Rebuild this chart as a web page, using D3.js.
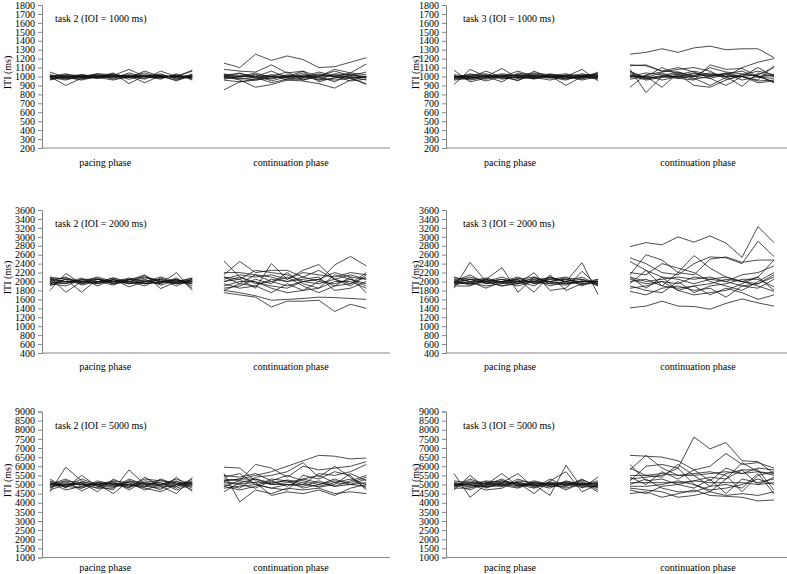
<!DOCTYPE html>
<html><head><meta charset="utf-8">
<script src="https://cdn.jsdelivr.net/npm/d3@7"></script>
<style>body{margin:0;background:#fff}svg{display:block}text{font-family:"Liberation Serif","Times New Roman",serif;fill:#000}</style>
</head><body><svg id="c" width="787" height="574"></svg>
<script>
const phases = ["pacing phase", "continuation phase"];
const titles = ["task 2 (IOI = 1000 ms)", "task 3 (IOI = 1000 ms)", "task 2 (IOI = 2000 ms)", "task 3 (IOI = 2000 ms)", "task 2 (IOI = 5000 ms)", "task 3 (IOI = 5000 ms)"];
const ticks1000 = [200,300,400,500,600,700,800,900,1000,1100,1200,1300,1400,1500,1600,1700,1800];
const ticks2000 = [400,600,800,1000,1200,1400,1600,1800,2000,2200,2400,2600,2800,3000,3200,3400,3600];
const ticks5000 = [1000,1500,2000,2500,3000,3500,4000,4500,5000,5500,6000,6500,7000,7500,8000,8500,9000];

const t2_1000_pacing = [
[1050,990,960,1000,1010,1080,1000,990,1000,1060],
[1000,900,980,1010,1000,990,1060,1000,1010,990],
[970,1010,990,1030,1020,1000,970,1060,1000,1070],
[1000,980,1000,990,1040,920,1010,1000,960,1000],
[990,1020,1010,980,1000,1010,930,1010,990,1000],
[960,1000,1020,1000,990,1000,1000,980,1020,970],
[1010,970,990,1020,980,1040,990,1030,970,1010],
[980,1000,1000,990,1030,990,1020,990,1010,980],
[1020,990,970,1000,1000,1010,1000,1010,990,1020],
[990,960,1010,1010,970,1000,980,1000,1000,990],
[1000,1030,990,980,1010,970,1010,1020,980,1000],
[970,990,1000,1030,1000,1020,1000,970,1030,960],
[1010,980,1020,990,960,1000,1040,990,1000,1010],
[1000,1010,980,1000,1020,990,1000,1010,950,1030]];
const t2_1000_cont = [
[1150,1100,1250,1180,1230,1190,1100,1110,1160,1210],
[1080,1060,1050,1130,1040,1060,1000,1080,1040,1140],
[850,940,960,1000,980,990,1020,1000,990,910],
[1000,960,880,910,960,950,920,870,960,1000],
[1010,1000,1000,1060,990,1040,960,1030,1020,1000],
[990,980,960,980,1000,1010,980,960,980,920],
[1020,1030,1000,970,1020,1000,1050,1010,990,990],
[970,1000,1020,1000,1050,960,1000,1060,1010,1050],
[1000,1040,990,1010,960,980,1000,940,1030,980],
[1030,990,1020,950,1000,1060,940,990,980,1000],
[960,940,970,1000,990,960,1010,1000,950,970],
[1000,1010,980,1020,1010,990,1030,1000,1040,1020],
[1010,970,990,930,970,1020,990,1020,1000,960],
[980,1000,1040,990,1000,1000,960,980,1010,990]];

const t3_1000_pacing = [
[910,1080,1000,1090,980,1010,1000,980,1000,1040],
[1070,940,980,1010,950,1060,990,1000,1080,950],
[980,990,1060,990,1020,990,1010,900,1000,1010],
[1000,1010,1000,940,1040,1000,1020,990,980,1000],
[960,980,1010,1000,990,1030,1000,1010,990,980],
[1000,960,990,1020,1000,980,990,960,1020,1020],
[990,1020,1030,990,960,1010,980,1020,1010,990],
[1020,1000,970,1010,1010,970,1030,1000,960,1000],
[970,990,1000,1000,1060,1000,1000,980,1000,970],
[1000,1000,1020,970,1000,1020,1010,1030,990,1030],
[980,1030,990,1000,980,990,960,1000,1030,1000],
[1010,970,1000,1030,1010,1000,1000,970,1000,990],
[990,1000,950,1000,1020,1040,1020,1000,1010,1010],
[1000,980,1010,980,990,980,1000,1010,970,1050]];
const t3_1000_cont = [
[1250,1270,1310,1270,1320,1340,1300,1310,1310,1210],
[1130,1120,1060,1050,1000,1020,1000,1100,1160,1200],
[880,1020,1050,1080,1100,1060,970,1000,960,1120],
[1080,820,1000,980,960,1130,1080,1090,1000,940],
[1120,1130,1060,1100,1050,980,900,1000,1100,1000],
[1000,1000,880,1040,980,900,990,1020,1060,1020],
[1050,980,1000,1000,1030,1000,1040,1000,950,960],
[970,1000,1100,1020,1060,1020,1030,960,1000,1010],
[1020,970,1000,1030,900,880,960,1020,1010,930],
[1000,1040,1020,990,1000,1100,1050,1030,1000,1020],
[1060,980,1010,1050,1000,980,1020,1000,930,950],
[990,1010,960,1000,1040,1010,1000,890,1040,1000],
[1030,990,1040,980,1010,1040,1000,1000,1020,1100],
[1010,960,990,1010,970,1000,1030,1060,990,980]];

const t2_2000_pacing = [
[1800,2180,1950,2050,2000,1950,2000,1950,2200,1800],
[2100,1760,2000,1980,2080,2000,1900,2080,1950,2000],
[1950,2050,1760,2050,1950,2030,2150,1840,2000,2080],
[2000,1950,2080,1900,2050,1880,2000,2050,1980,1950],
[2050,2000,1950,2000,1920,2050,2100,2000,1950,2050],
[1900,2050,2000,2100,2000,2000,1950,1980,2050,1900],
[2080,1980,2020,1950,2050,1950,2050,1920,2020,2000],
[2000,2100,1920,2000,1980,2080,1980,2050,1900,2050],
[1950,1900,2050,2050,2000,1980,2130,1980,2050,1950],
[2020,2000,2000,1980,2080,1950,2000,2100,2000,2020],
[2100,2050,1980,2080,1950,2000,1950,2000,1980,2070],
[1980,1950,2050,2000,2000,2050,2020,1950,2080,1850],
[2050,2080,2000,1950,2030,2000,2080,2020,1950,2000],
[1930,2000,1980,2050,1950,2050,1950,2000,2030,1980]];
const t2_2000_cont = [
[2460,2100,1980,1900,1850,2000,2050,2200,2100,2050],
[2150,2450,2200,2250,2250,2100,2000,2370,2560,2350],
[1750,1700,1650,1430,1560,1560,1580,1330,1490,1400],
[1800,1750,1680,1580,1600,1620,1650,1640,1620,1600],
[2000,2050,1850,2400,2050,2250,2380,2050,1900,2150],
[2100,1950,2150,2000,2100,1900,1750,1900,2100,1750],
[1900,2000,2000,1850,1750,1800,2000,1950,2050,1950],
[2050,2150,2100,2150,2050,2200,2150,2100,2200,2150],
[1950,1850,1900,2050,2000,2050,2100,1800,1850,2000],
[2200,2200,2150,2100,2000,2100,2250,2050,1950,2100],
[1850,1900,2050,1950,2200,1950,1850,2000,2000,1850],
[2000,2100,1950,2000,1900,2000,1950,2050,2150,2050],
[2100,2050,2250,2200,2150,2000,2050,1900,1950,2200],
[1800,1950,1900,1750,1950,1800,1850,2150,2050,1900]];

const t3_2000_pacing = [
[1850,2430,2000,1900,2000,2000,2100,2000,2420,1710],
[2000,1950,2050,2310,1760,2100,2000,1950,2000,2000],
[2100,2000,1850,2000,2050,1760,2150,1800,1950,1950],
[1950,2050,2000,2050,1950,2200,1800,1850,2230,1900],
[2000,2150,1950,2000,2100,1950,2050,2100,1900,2050],
[1900,1900,2050,1950,2000,2050,1900,2000,2050,1950],
[2050,2000,2000,1900,1950,2000,2000,2050,1950,2000],
[1980,1950,1980,2050,2000,1900,2100,1980,2000,1980],
[2080,2050,1950,2000,2050,2100,1950,2000,2100,1920],
[1920,2000,2080,1980,1900,2000,2050,2050,1980,2050],
[2000,2100,2000,2100,1980,2080,1980,1950,2000,2000],
[1950,1980,1900,1950,2080,1950,2000,2080,2050,1900],
[2020,1920,2020,2000,1950,2030,2080,2000,1930,2020],
[1980,2050,2050,1980,2020,1980,1950,1920,2020,1950]];
const t3_2000_cont = [
[2780,2870,2820,3000,2880,3020,2860,2540,3230,2870],
[2530,2400,2200,2150,2400,2550,2530,2400,2900,2560],
[1410,1450,1560,1450,1440,1380,1510,1610,1520,1450],
[2150,2600,2480,2200,2580,2300,2100,2000,2100,2480],
[2450,2250,2100,2050,1950,2050,2100,2000,1900,1780],
[1950,2250,1900,2200,2150,2500,2550,2430,2480,2480],
[2100,1850,2100,1800,1900,1700,1850,1750,1600,1700],
[1780,1700,1850,1900,1800,1850,1650,1900,1850,2050],
[2050,1950,2000,1950,2100,2050,2000,2150,2200,2350],
[2200,2150,2400,2300,2200,2000,1900,1800,2000,2200],
[2000,2050,1900,1850,1900,1950,2050,2000,1950,2100],
[1900,1800,1750,2000,1750,1900,1950,2050,2050,1880],
[2100,2000,2050,2100,2050,2100,2000,1900,1950,2150],
[1850,1900,2000,1800,1700,1750,1800,1950,2100,1800]];

const t2_5000_pacing = [
[4600,5950,5200,4900,4700,5800,5000,4700,5400,4600],
[5300,4800,5500,4900,5100,4800,5400,4900,4500,5400],
[5000,5200,4650,5050,4500,5200,4900,5300,5000,5200],
[4900,5000,5100,4600,5300,4900,5100,5000,5300,5000],
[5100,4700,4900,5100,4900,5000,4800,4600,5000,4900],
[4950,5100,5000,5000,5200,4700,5200,5100,4800,5100],
[5200,4900,4800,5200,5000,5100,4700,5000,5200,4800],
[4800,5200,5100,4800,4800,5300,5000,4900,4900,5300],
[5050,4900,5300,5000,5100,4900,5300,5200,5100,4700],
[5000,5300,4900,5100,5000,5000,4900,4800,5000,5100],
[4700,5000,5000,4800,5200,5100,5000,5100,4700,5000],
[5150,4850,5150,5000,4950,4850,5100,5000,5150,4950],
[4850,5050,4800,5100,5050,5000,4850,5250,4900,5150],
[5000,4950,5050,4950,4850,5200,5050,4950,5050,5050]];
const t2_5000_cont = [
[5950,5900,5200,5000,5100,5300,5100,4900,5000,5100],
[5600,4050,4700,4500,4800,4700,4800,4500,4600,4500],
[5200,5300,5500,5700,6000,6300,6600,6550,6400,6450],
[4900,5200,6100,5900,5400,6000,5800,5900,6000,6250],
[5300,5200,5100,4400,4600,4500,4700,4400,4800,5000],
[5000,4800,5400,5500,5700,6200,5400,6000,5400,4800],
[4600,5100,5300,5100,5200,5000,5600,5500,5700,6100],
[5100,5000,4800,5200,5500,5200,5000,5300,5000,5300],
[5400,5600,5000,4800,5000,4900,5200,4900,5200,5500],
[4800,4900,5000,4800,4700,5500,5300,5700,5500,4700],
[5200,5300,5300,5000,5000,5000,4900,5100,5300,5000],
[4900,4700,4900,5300,5200,4800,5000,5200,5100,5400],
[5500,5400,5600,5200,4900,5300,5500,5100,5000,4900],
[5150,5050,5100,5050,5250,5100,4850,5000,5600,5200]];

const t3_5000_pacing = [
[5600,4300,5000,5600,4900,5000,4400,6050,4800,5400],
[4700,5500,4800,5100,5600,4800,5100,4700,5100,4600],
[5000,4700,5100,5000,5100,4500,5200,5700,4600,5000],
[5100,5000,4700,4800,5200,5100,4900,4900,5300,4800],
[4900,5200,5000,5300,4900,5200,5000,5100,4900,5000],
[4800,4800,5100,5200,5000,4900,5100,5000,5100,4900],
[5200,5100,4900,4900,5300,5000,4800,5200,5000,5200],
[5000,4900,5200,5100,5000,4800,5300,4900,5200,4700],
[4900,5300,5000,4950,4800,5100,5000,5100,5000,5100],
[5100,4950,4900,5100,5100,4950,4900,5000,4850,4900],
[4950,5050,5050,5000,4950,5050,5050,4800,5050,5050],
[5050,4850,4950,5200,5050,5000,4950,5050,4950,4850],
[4850,5100,5150,4900,5150,4900,5150,4950,5250,4950],
[5000,5000,4850,5050,4850,5150,5000,5150,5000,5100]];
const t3_5000_cont = [
[6600,6550,6500,6300,5800,6000,6700,6100,6200,5900],
[5300,5400,5500,5900,7600,6950,7300,6300,6250,5600],
[5800,6600,5900,5500,5600,5700,5500,4600,5500,5700],
[4500,4600,4300,4500,4700,4400,4350,4300,4100,4150],
[5200,6000,6100,5900,5000,4600,5300,5800,5800,4700],
[5500,5500,5600,5500,5500,5600,5700,5600,5700,5500],
[5100,5100,5100,5100,5200,5100,5100,5100,5000,5100],
[4800,4700,4600,4300,4400,4600,4400,4500,4400,4600],
[5900,5500,5400,6100,5500,4900,5600,5800,5000,5400],
[4700,4500,4900,5000,4800,5300,4500,5300,5100,5300],
[5400,5000,5700,5300,5800,5200,5900,5600,5900,5800],
[5000,5300,4800,4600,4600,4900,5000,4800,5600,4500],
[6100,5200,5300,5000,5200,5400,5300,6200,5700,5600],
[4900,4900,5000,5200,5000,4700,4800,5000,5300,5000]];

const panels = [
  {title: titles[0], ticks: ticks1000, pacing: t2_1000_pacing, cont: t2_1000_cont, col: 0, row: 0},
  {title: titles[1], ticks: ticks1000, pacing: t3_1000_pacing, cont: t3_1000_cont, col: 1, row: 0},
  {title: titles[2], ticks: ticks2000, pacing: t2_2000_pacing, cont: t2_2000_cont, col: 0, row: 1},
  {title: titles[3], ticks: ticks2000, pacing: t3_2000_pacing, cont: t3_2000_cont, col: 1, row: 1},
  {title: titles[4], ticks: ticks5000, pacing: t2_5000_pacing, cont: t2_5000_cont, col: 0, row: 2},
  {title: titles[5], ticks: ticks5000, pacing: t3_5000_pacing, cont: t3_5000_cont, col: 1, row: 2}
];

const colGeom = [{x0: 42, w: 348, ttl: 35, tx: 13}, {x0: 446, w: 352, ttl: 31, tx: 17}];
const rowGeom = [{top: 5, bottom: 148, lab: 18}, {top: 210, bottom: 353, lab: 17}, {top: 411.5, bottom: 557.5, lab: 13.5}];

const svg = d3.select("#c");

panels.forEach(p => {
  const cg = colGeom[p.col], rg = rowGeom[p.row];
  const g = svg.append("g");
  const y = d3.scaleLinear().domain([p.ticks[0], p.ticks[p.ticks.length - 1]]).range([rg.bottom, rg.top]);
  const x = d3.scaleBand().domain(d3.range(22)).range([cg.x0, cg.x0 + cg.w]);
  const cx = i => x(i) + x.bandwidth() / 2;

  const yAxis = d3.axisLeft(y).tickValues(p.ticks).tickSize(4).tickPadding(3).tickFormat(d3.format("d"));
  const ya = g.append("g").attr("transform", `translate(${cg.x0},0)`).call(yAxis);
  ya.select(".domain").attr("stroke", "#868686").attr("stroke-width", 1);
  ya.selectAll(".tick line").attr("stroke", "#868686");
  ya.selectAll(".tick text").attr("font-size", 10).attr("font-family", "Liberation Serif").attr("fill", "#000");

  g.append("line").attr("x1", cg.x0).attr("x2", cg.x0 + cg.w).attr("y1", rg.bottom).attr("y2", rg.bottom)
    .attr("stroke", "#868686").attr("stroke-width", 1);

  const line = d3.line().x(d => cx(d.i)).y(d => y(d.v));
  p.pacing.forEach(s => {
    g.append("path").attr("d", line(s.map((v, k) => ({i: k, v})))).attr("fill", "none").attr("stroke", "#111").attr("stroke-width", 0.75);
  });
  p.cont.forEach(s => {
    g.append("path").attr("d", line(s.map((v, k) => ({i: k + 11, v})))).attr("fill", "none").attr("stroke", "#111").attr("stroke-width", 0.75);
  });

  g.append("text").attr("x", cg.x0 + cg.tx).attr("y", rg.top + 17).attr("font-size", 10).text(p.title);
  g.append("text").attr("transform", `translate(${cg.x0 - cg.ttl},${(rg.top + rg.bottom) / 2 - 4}) rotate(-90)`)
    .attr("text-anchor", "middle").attr("dy", "0.35em").attr("font-size", 10).text("ITI (ms)");

  const lblPos = [x(4) + x.bandwidth() / 2 - 8, x(16) + x.bandwidth() / 2 - 12];
  phases.forEach((ph, k) => {
    g.append("text").attr("x", lblPos[k]).attr("y", rg.bottom + rg.lab).attr("text-anchor", "middle").attr("font-size", 10).text(ph);
  });
});
</script></body></html>
